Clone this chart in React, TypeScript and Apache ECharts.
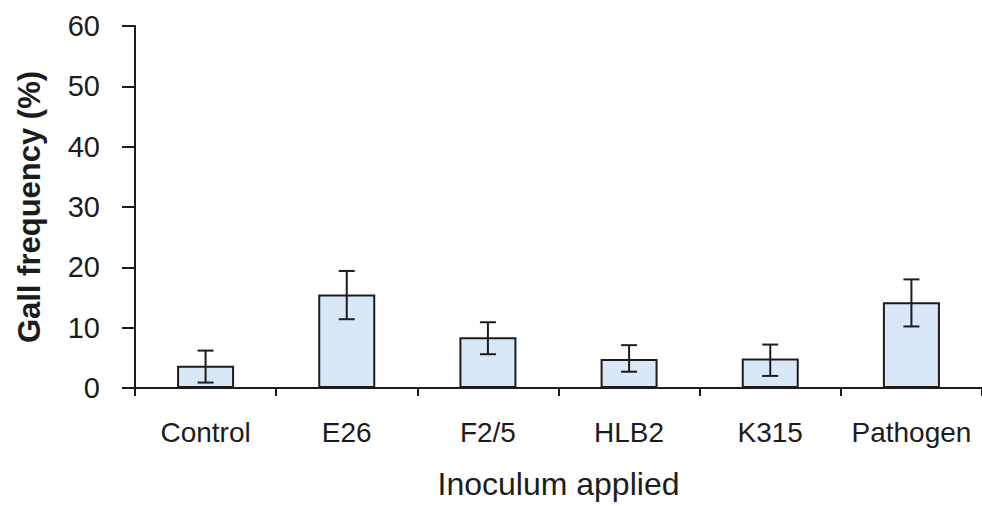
import React, { useEffect, useRef } from "react";
import * as echarts from "echarts";

const categories = ["Control", "E26", "F2/5", "HLB2", "K315", "Pathogen"];
const means = [3.7, 15.5, 8.4, 4.8, 4.9, 14.2];
const errLow = [0.9, 11.4, 5.6, 2.7, 2.0, 10.2];
const errHigh = [6.2, 19.4, 10.9, 7.1, 7.2, 18.0];
const yTicks = { min: 0, max: 60, interval: 10 };

const FONT = "'Liberation Sans', Arial, sans-serif";
const INK = "#1c1c1c";

export default function App() {
  const ref = useRef<HTMLDivElement>(null);
  useEffect(() => {
    if (!ref.current) return;
    const chart = echarts.init(ref.current, undefined, { renderer: "svg" });
    const errData = categories.map((_, i) => [i, errLow[i], errHigh[i]]);
    chart.setOption({
      animation: false,
      backgroundColor: "#ffffff",
      grid: { left: 135, right: 0, top: 26, bottom: 118, containLabel: false },
      xAxis: {
        type: "category",
        data: categories,
        boundaryGap: true,
        name: "Inoculum applied",
        nameLocation: "middle",
        nameGap: 80,
        nameTextStyle: { fontFamily: FONT, fontSize: 32, color: INK },
        axisLine: { lineStyle: { color: INK, width: 2 } },
        axisTick: { show: true, interval: 0, length: 8, lineStyle: { color: INK, width: 2 } },
        axisLabel: { interval: 0, fontFamily: FONT, fontSize: 28, color: INK, margin: 30 },
      },
      yAxis: {
        type: "value",
        min: yTicks.min,
        max: yTicks.max,
        interval: yTicks.interval,
        name: "Gall frequency (%)",
        nameLocation: "middle",
        nameGap: 90,
        nameTextStyle: { fontFamily: FONT, fontSize: 31, fontWeight: "bold", color: INK },
        axisLine: { show: true, lineStyle: { color: INK, width: 2 } },
        axisTick: { show: true, length: 13, lineStyle: { color: INK, width: 2 } },
        axisLabel: { fontFamily: FONT, fontSize: 29, color: INK, margin: 35 },
        splitLine: { show: false },
      },
      series: [
        {
          type: "bar",
          data: means,
          barWidth: 57,
          itemStyle: { color: "#d8e8f6", borderColor: INK, borderWidth: 2 },
        },
        {
          type: "custom",
          data: errData,
          z: 10,
          renderItem: (params: any, api: any) => {
            const x = api.value(0);
            const lo = api.coord([x, api.value(1)]);
            const hi = api.coord([x, api.value(2)]);
            const hw = 8;
            const style = { stroke: INK, lineWidth: 2, fill: "none" };
            return {
              type: "group",
              children: [
                { type: "line", shape: { x1: lo[0], y1: lo[1], x2: hi[0], y2: hi[1] }, style },
                { type: "line", shape: { x1: hi[0] - hw, y1: hi[1], x2: hi[0] + hw, y2: hi[1] }, style },
                { type: "line", shape: { x1: lo[0] - hw, y1: lo[1], x2: lo[0] + hw, y2: lo[1] }, style },
              ],
            };
          },
        },
      ],
    });
    return () => chart.dispose();
  }, []);
  return (
    <div
      ref={ref}
      style={{ position: "absolute", left: 0, top: 0, width: 982, height: 506, background: "#fff" }}
    />
  );
}
